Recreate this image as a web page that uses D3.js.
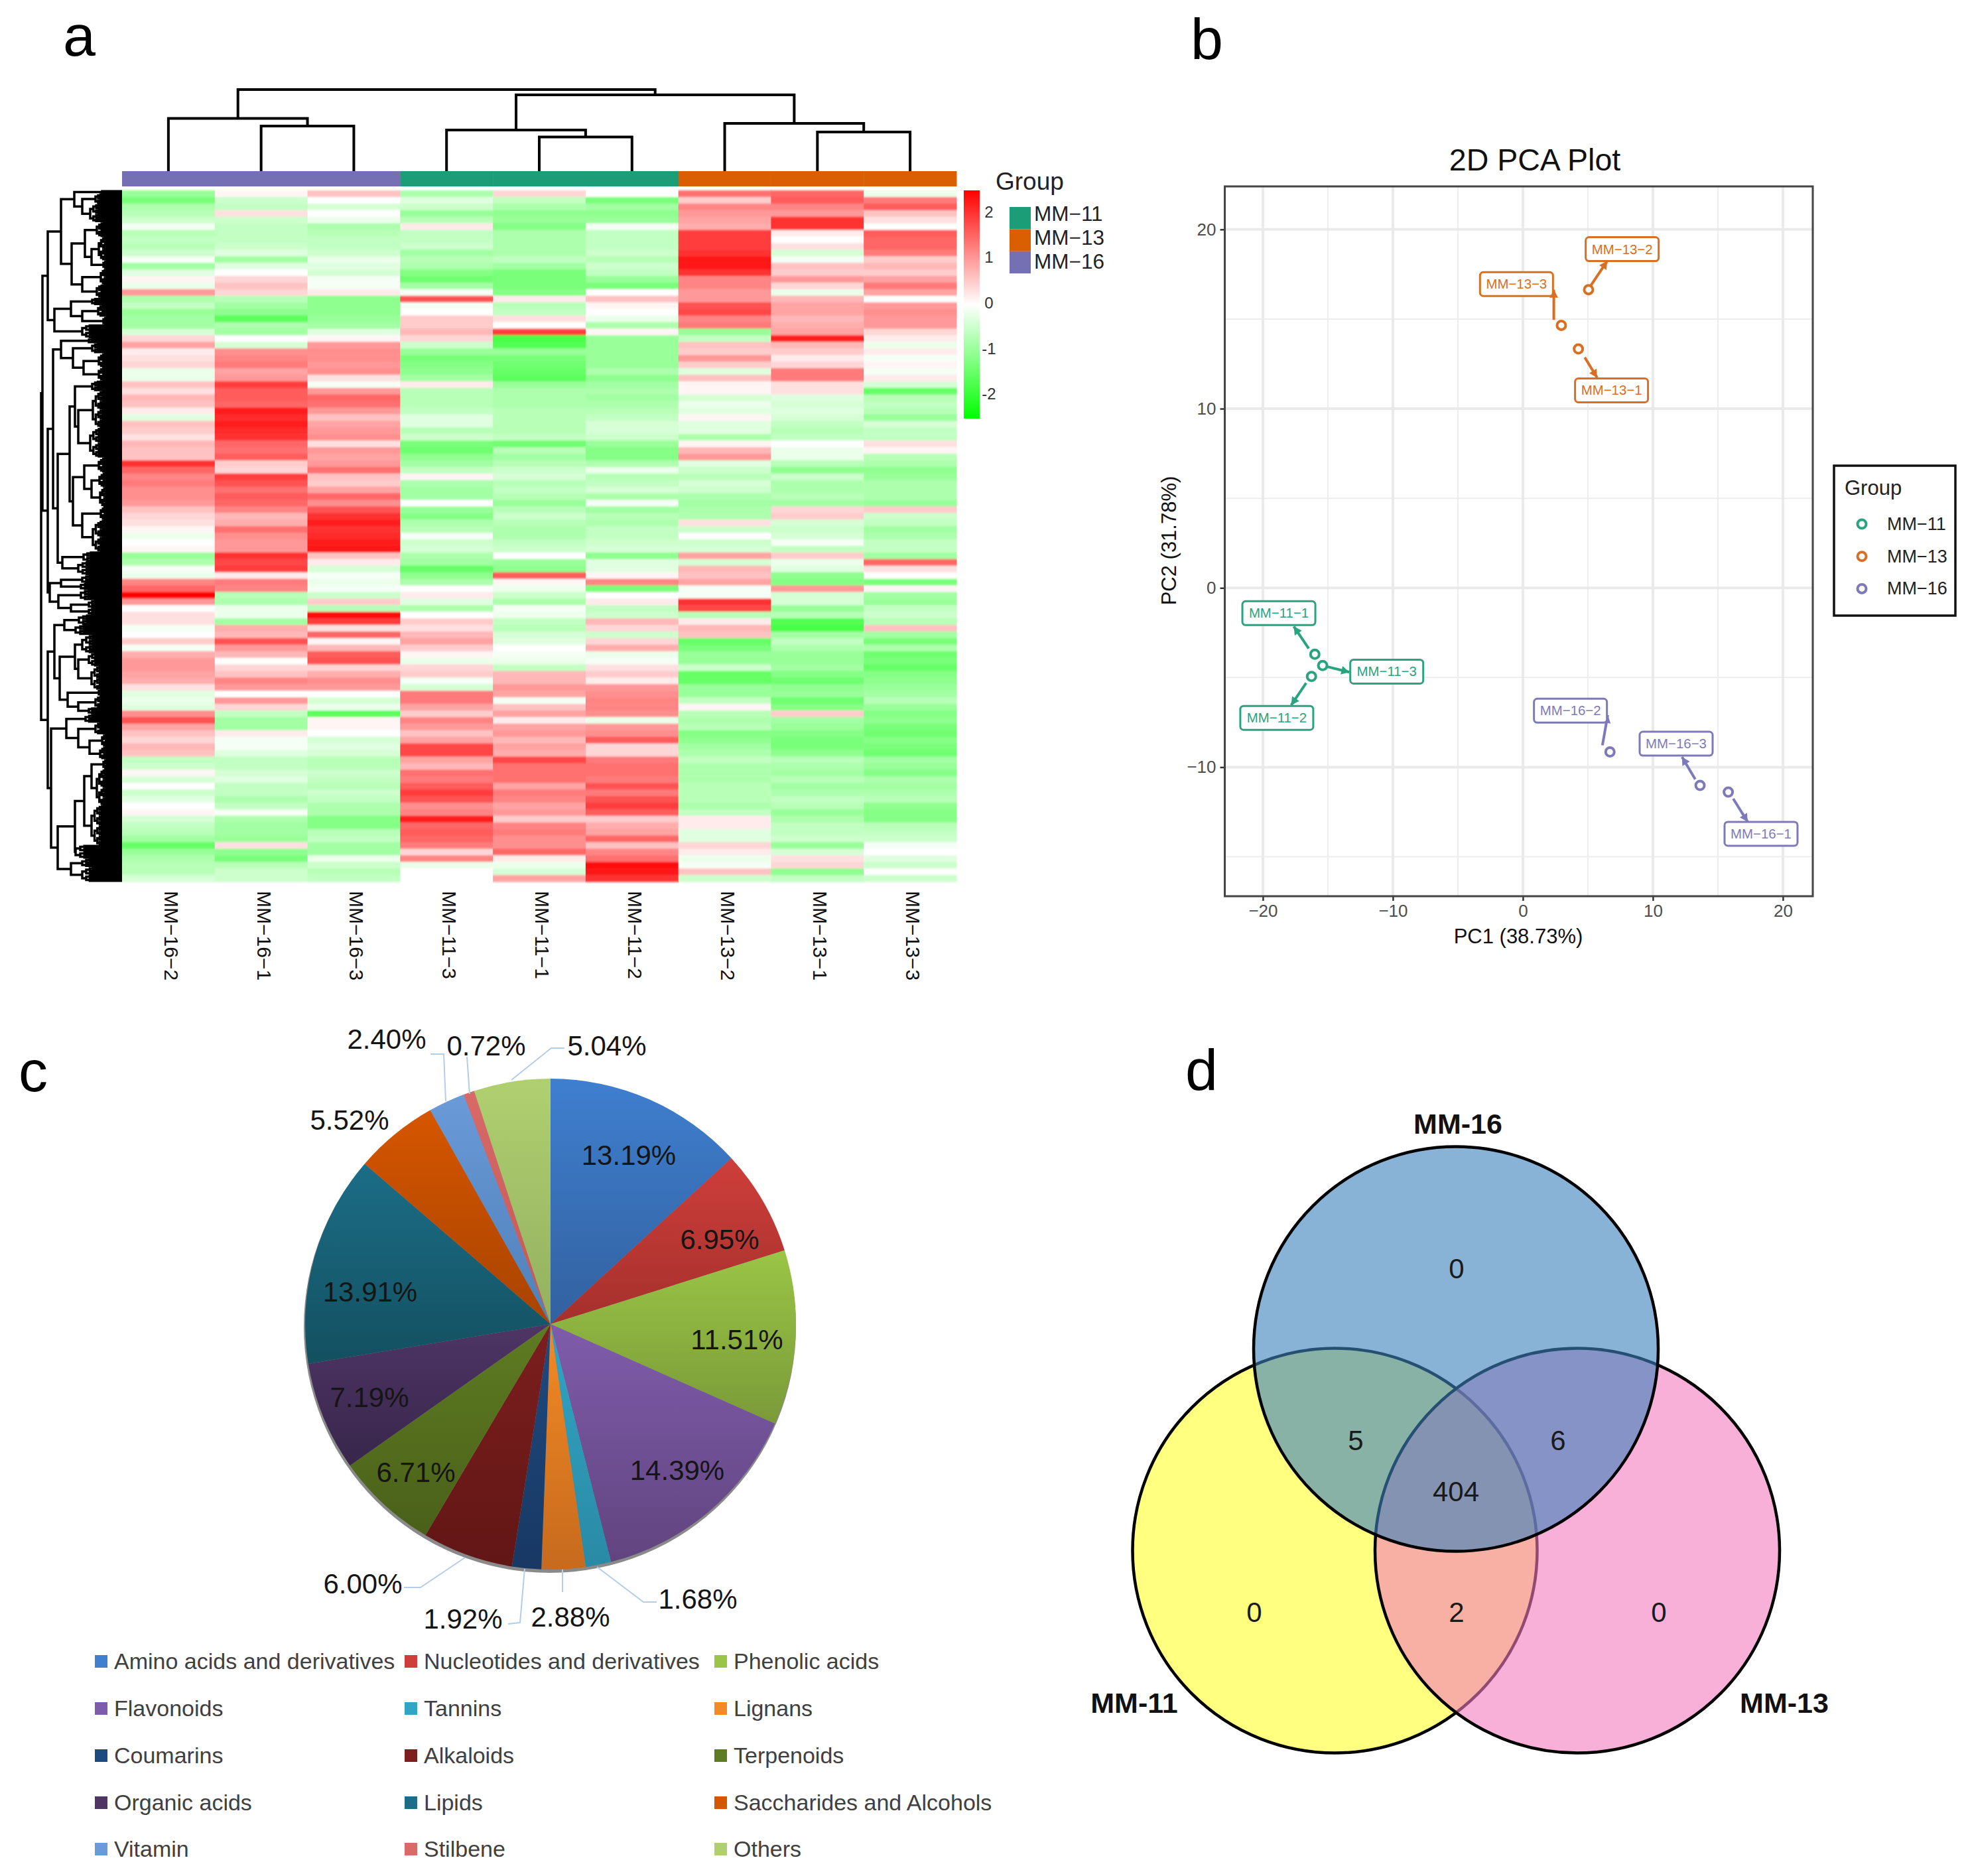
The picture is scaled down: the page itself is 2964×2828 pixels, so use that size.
<!DOCTYPE html>
<html><head><meta charset="utf-8">
<script src="https://cdn.jsdelivr.net/npm/d3@7/dist/d3.min.js"></script>
<style>html,body{margin:0;padding:0;background:#fff}svg{display:block}text{font-family:"Liberation Sans",Arial,sans-serif}</style>
</head><body><svg id="c" width="2964" height="2828" viewBox="0 0 2964 2828"></svg>
<script>
// ---------- Heatmap data (z-scores, one list per sample) ----------
const heatSamples = ["MM−16−2","MM−16−1","MM−16−3","MM−11−3","MM−11−1","MM−11−2","MM−13−2","MM−13−1","MM−13−3"];
const heatGroups = ["MM-16","MM-16","MM-16","MM-11","MM-11","MM-11","MM-13","MM-13","MM-13"];
const s16_2 = [-1.0,-1.3,-0.8,-0.7,-0.5,-0.1,-0.7,-0.6,-0.7,-0.5,-0.1,-0.9,-0.3,0.1,-0.2,1.0,-0.8,-0.6,-1.0,-0.9,-0.9,-0.4,0.4,0.9,0.2,0.3,0.4,-0.2,-0.2,0.6,0.3,0.7,0.6,0.2,-0.3,
 0.6,0.5,0.3,0.7,0.6,0.6,2.0,1.5,1.2,1.3,1.1,1.1,1.0,0.6,0.4,0.3,0.1,-0.2,0.0,0.1,-1.0,-0.8,-0.1,-0.2,1.2,1.5,2.5,1.0,0.0,0.3,0.3,-0.1,0.0,0.5,-0.1,
 0.8,1.0,1.0,0.9,0.8,0.3,-0.3,-0.2,-0.3,1.1,1.7,0.9,0.6,0.4,0.7,0.6,-0.6,-0.5,0.1,-0.4,0.0,-0.5,-0.3,0.0,0.1,-0.4,-0.6,-0.7,-0.9,-1.5,-1.0,-0.8,-0.7,-0.7,-0.4];
const s16_1 = [0.1,-0.5,-0.6,0.3,-0.5,-0.6,-0.6,-0.6,-0.5,-0.3,-0.9,-0.3,0.0,0.4,0.6,0.4,-0.7,-0.9,-1.1,-1.6,-0.8,-0.9,0.0,-0.4,1.1,1.2,1.3,0.9,1.0,1.9,1.6,1.6,1.5,2.2,2.1,
 2.2,2.1,2.0,1.5,1.4,1.6,0.5,0.4,1.9,1.7,1.4,1.6,1.5,1.2,0.7,0.8,1.4,1.1,1.0,1.0,2.0,1.8,1.9,0.2,1.3,1.2,-0.7,-0.8,-0.2,-0.2,-0.9,0.8,0.7,1.7,1.0,
 0.7,0.0,0.4,0.6,1.2,1.0,0.0,1.0,0.4,-0.6,-0.9,-0.9,0.2,-0.1,-0.1,-0.3,-0.6,-0.6,-0.4,-0.3,-0.6,-0.6,-0.8,-0.6,-0.1,-0.8,-0.9,-0.9,-1.0,0.3,-1.1,-1.3,-0.7,-0.5,-0.5];
const s16_3 = [0.6,0.0,-0.4,0.0,-0.2,-0.8,-0.7,-0.6,-0.6,-0.5,-0.2,-0.3,-0.4,-0.1,-0.1,0.2,-1.1,-1.1,-1.1,-1.0,-0.9,-0.3,0.1,1.0,1.1,1.1,1.0,1.1,0.3,-0.1,1.0,1.5,1.4,1.0,0.6,
 0.9,1.0,1.1,0.3,1.0,0.9,1.0,1.4,0.6,0.5,0.9,1.5,1.1,1.7,2.0,2.2,2.0,2.1,2.2,2.3,0.6,0.2,-0.4,-0.1,-0.2,-0.1,-0.5,0.5,-0.7,2.4,1.9,0.3,1.5,0.1,0.7,
 1.6,1.7,0.4,0.8,1.1,1.0,0.0,-0.4,-0.2,-1.6,0.1,0.1,0.0,-0.4,-0.3,-0.4,-0.7,-0.7,-0.5,-0.6,-0.7,-0.5,-0.6,-0.8,-0.8,-1.2,-1.2,-0.7,-0.6,-0.9,-0.9,-0.2,-0.5,-0.7,-0.6];
const s11_3 = [-0.8,-0.3,-0.5,-1.0,-0.7,0.2,-0.6,-0.6,-0.5,-0.9,-0.7,-0.8,-1.2,-1.4,-0.9,-0.1,1.7,-0.1,0.0,0.5,0.5,0.7,0.4,-0.5,-1.0,-1.3,-1.2,-1.1,-0.9,0.2,-0.7,-0.7,-0.7,-0.6,-0.3,
 -0.3,-0.7,-0.5,-1.3,-1.4,-1.1,-0.9,-0.6,0.1,-0.8,-0.9,-0.9,0.0,-1.0,-1.2,-0.8,-0.7,-0.1,-0.5,-0.4,-0.8,-0.9,-1.5,-1.1,-0.8,0.0,0.2,-0.3,-0.8,0.0,0.5,0.3,0.7,0.9,0.5,
 0.1,-0.2,0.4,0.5,-0.1,-0.4,1.3,1.3,0.9,0.5,1.2,1.0,0.6,0.9,1.8,1.8,0.9,0.7,1.4,1.3,1.6,1.9,1.7,1.1,1.2,2.2,1.5,1.6,1.5,1.3,0.4,1.2,-0.2,0.0,0.0];
const s11_1 = [0.4,-0.6,-0.8,-1.1,-1.0,-1.2,-0.8,-0.8,-0.8,-0.8,-0.6,-0.9,-1.3,-1.3,-1.3,-1.2,0.2,-0.7,-0.6,0.3,0.0,1.9,-1.8,-1.7,-1.0,-1.3,-1.4,-1.5,-1.6,-1.0,-0.8,-0.8,-0.8,-0.7,-0.7,
 -0.7,-0.7,-0.6,-1.4,-0.7,-0.9,-0.7,-0.5,-0.4,-0.7,-0.6,-0.7,-1.0,-0.7,-0.5,-0.7,-0.8,-0.8,-0.6,-0.5,0.0,-1.0,-1.1,1.6,0.1,-0.2,-0.5,-0.8,-0.1,-0.2,-0.6,-0.7,-0.4,-0.3,0.0,
 -0.1,-0.2,-0.6,0.7,0.7,1.0,0.9,-0.1,0.6,0.9,0.2,0.9,1.0,0.7,0.9,0.8,1.8,1.4,1.4,1.4,0.9,1.3,1.2,0.9,1.0,0.5,1.2,1.3,1.1,1.1,1.5,0.2,-0.2,-0.4,0.9];
const s11_2 = [0.0,-1.3,-0.9,-1.1,-1.0,-0.1,-0.6,-0.6,-0.6,-0.5,-0.7,-0.5,-0.6,-1.0,-1.3,0.0,0.6,0.1,0.0,-0.2,-0.8,0.1,-1.0,-1.0,-1.0,-1.0,-1.0,-0.8,-1.1,-0.9,-0.8,-0.9,-0.8,-0.7,-0.6,
 -0.4,-0.4,-0.5,-1.0,-1.2,-1.2,-0.8,-0.2,-0.7,-0.6,-0.4,-0.8,-0.1,-0.9,-0.7,-0.8,-0.6,-0.6,-0.5,-0.4,-1.1,-0.3,-0.3,0.1,1.2,-1.3,0.0,0.2,-0.6,-0.5,0.7,0.4,-0.5,0.4,0.8,
 -0.2,-0.1,0.3,0.5,0.2,1.0,1.1,1.2,1.2,1.1,-0.2,1.0,1.1,1.6,0.4,0.4,1.3,1.4,1.4,1.3,1.7,1.3,1.7,1.9,1.6,0.5,0.8,0.9,1.5,0.6,1.2,1.4,2.4,2.3,2.0];
const s13_2 = [1.4,0.5,1.2,1.0,0.9,0.8,1.9,1.9,1.9,2.0,2.3,2.3,2.0,1.2,1.2,1.0,1.0,1.7,1.8,1.2,1.3,-1.0,-0.6,0.6,0.5,1.0,0.5,-0.3,0.6,0.1,0.1,-0.4,-0.2,-0.3,0.1,
 -0.3,-0.3,-0.8,0.1,0.7,1.0,-0.3,-0.5,-0.7,-0.4,-0.5,-0.8,-0.9,-0.8,-0.8,0.3,-0.5,0.0,-0.5,-0.4,0.9,-0.4,0.7,0.6,0.9,-0.1,-0.1,2.0,1.8,-0.7,0.2,0.7,0.6,-1.5,-1.3,
 -1.0,-1.0,-0.5,-1.5,-1.5,-1.0,-1.0,-0.6,0.1,-0.7,-0.8,-0.7,-1.2,-1.1,-0.9,-0.8,-0.6,-0.8,-0.8,-0.8,-0.7,-0.7,-0.7,-0.8,-0.6,0.2,0.2,-0.3,-0.3,0.4,0.2,-0.2,-0.1,0.6,-0.5];
const s13_1 = [1.5,1.6,1.2,1.0,2.0,2.0,0.2,0.0,0.3,-0.4,-0.1,0.6,0.5,1.0,0.4,-0.2,0.7,0.9,0.9,0.7,0.8,0.9,2.2,0.7,0.5,0.2,0.4,1.3,1.3,0.3,0.3,-0.3,-0.4,-0.3,-0.4,
 -0.6,-0.7,-0.6,0.0,-0.2,-0.2,-0.7,-1.1,-0.5,-0.8,-0.8,-0.7,-0.9,0.4,0.5,-0.4,-0.5,-0.4,-0.1,-0.6,0.5,-0.2,-0.3,-1.1,-1.2,1.0,-0.4,-0.4,-1.0,-0.7,-1.7,-1.8,-0.9,-0.6,-0.8,
 -1.0,-1.0,-0.9,-1.2,-1.4,-1.1,-1.0,-1.4,-1.2,0.5,-0.9,-1.0,-1.2,-1.3,-1.3,-1.1,-0.7,-0.8,-0.9,-0.7,-0.9,-0.8,-0.6,-0.7,-1.0,-0.8,-0.6,-0.6,-0.5,-1.0,-0.4,0.3,0.4,-1.1,-0.6];
const s13_3 = [-0.2,1.3,1.6,0.6,0.3,0.0,1.6,1.5,1.5,1.3,0.5,0.7,0.5,0.9,1.3,0.9,0.0,1.0,1.1,1.0,1.0,0.4,0.2,-0.2,0.2,-0.1,0.1,-0.1,0.2,-0.4,-1.5,-0.7,-0.6,-0.7,-1.0,
 -0.4,-0.6,-0.6,0.3,0.1,-0.7,-0.8,-1.1,-1.0,-0.8,-0.8,-0.8,-1.0,0.5,-0.5,-0.6,-0.9,-0.8,-0.6,-0.6,-0.9,1.5,0.3,0.0,-1.3,0.1,-0.9,-1.0,-0.6,-0.5,-0.7,0.6,-0.9,-1.3,-0.8,
 -1.4,-1.3,-1.5,-1.2,-1.1,-1.0,-0.9,-0.7,-1.0,-1.2,-1.1,-1.3,-1.4,-1.2,-1.3,-1.4,-0.9,-1.0,-1.2,-0.8,-0.9,-0.8,-0.7,-1.1,-1.2,-1.2,-0.7,-0.6,-0.5,-0.1,0.0,-0.3,-0.5,0.0,-0.5];
const heatColumns = [s16_2,s16_1,s16_3,s11_3,s11_1,s11_2,s13_2,s13_1,s13_3];
const heatLegendTicks = [2,1,0,-1,-2];
const groupNames = ["MM−11","MM−13","MM−16"];
const groupColors = {"MM-11":"#1B9E77","MM-13":"#D95F02","MM-16":"#7570B3"};
const pcaColors = {"MM-11":"#2AA37F","MM-13":"#D96F22","MM-16":"#7E7ABA"};

// column dendrogram: [height, left, right]; numbers are column positions
const colTree = [123,[79.5,0,[68,1,2]],[115,[62,3,[51.5,4,5]],[72,6,[59,7,8]]]];
// row dendrogram: [height, a, b]; a leaf bundle is [firstRow, lastRow, height]
const rowTree = [122,
 [120,
  [112,
   [92,
    [72,[0,2,30],[60,[2,8,40],[8,19,48]]],
    [76,[56,[19,28,38],[46,[28,42,35],[42,47,28]]],[60,[47,57,32],[57,65,38]]]],
   [102,[77,[65,69,45],[60,[69,76,36],[76,81,28]]],[81,89,60]]],
  [112,
   [104,
    [92,[89,92,50],[74,[92,98,45],[58,[98,107,35],[107,115,35]]]],
    [97,
     [79,
      [71,[115,121,45],[66,[121,143,44],[143,161,48]]],
      [74,[57,[161,170,35],[46,[170,179,34],[179,191,33]]],[60,[191,199,32],[199,218,44]]]],
     [90,[218,224,58],[224,232,66]]]],
   [109,
    [92,[232,237,60],[237,241,62]],
    [96,[241,247,62],[77,[247,252,50],[252,256,50]]]]]],
 [112,
  [102,
   [87,[256,262,65],[262,268,70]],
   [94,
    [71,[268,279,60],[66,[279,287,50],[287,301,46]]],
    [82,[301,305,35],[66,[305,312,40],[312,316,50]]]]],
  [107,
   [84,[316,321,55],[66,[321,328,40],[49,[328,336,30],[336,343,33]]]],
   [97,
    [71,[57,[46,[343,349,28],[349,371,38]],[371,395,46]],[395,403,70]],
    [77,[403,408,60],[408,417,60]]]]]];

// ---------- PCA data ----------
const pcaSamples = ["MM−11−1","MM−11−2","MM−11−3","MM−13−1","MM−13−2","MM−13−3","MM−16−1","MM−16−2","MM−16−3"];
const pcaGroup = ["MM-11","MM-11","MM-11","MM-13","MM-13","MM-13","MM-16","MM-16","MM-16"];
const pc1 = [-16.0,-16.26,-15.4,4.27,5.05,2.96,15.8,6.7,13.63];
const pc2 = [-3.7,-4.94,-4.33,13.33,16.64,14.65,-11.39,-9.15,-11.02];
const labelPc1 = [-18.77,-18.93,-10.47,6.82,7.64,-0.49,18.32,3.66,11.79];
const labelPc2 = [-1.41,-7.25,-4.67,11.02,18.9,16.95,-13.72,-6.85,-8.69];
const arrowFrom1 = [-16.47,-16.67,-15.07,4.76,5.22,2.38,16.18,6.12,13.26];
const arrowFrom2 = [-3.38,-5.31,-4.39,12.86,16.86,14.95,-11.76,-8.78,-10.68];
const arrowTo1 = [-17.62,-17.82,-13.35,5.71,6.49,2.38,17.29,6.53,12.24];
const arrowTo2 = [-2.15,-6.54,-4.70,11.73,18.24,16.64,-13.05,-7.09,-9.43];
const pcaMajorX = [-20,-10,0,10,20], pcaMinorX = [-15,-5,5,15];
const pcaMajorY = [-10,0,10,20], pcaMinorY = [-15,-5,5,15];

// ---------- Pie data ----------
const pieNames = ["Amino acids and derivatives","Nucleotides and derivatives","Phenolic acids","Flavonoids","Tannins","Lignans","Coumarins","Alkaloids","Terpenoids","Organic acids","Lipids","Saccharides and Alcohols","Vitamin","Stilbene","Others"];
const pieValues = [13.19,6.95,11.51,14.39,1.68,2.88,1.92,6.00,6.71,7.19,13.91,5.52,2.40,0.72,5.04];
const pieTop = ["#3F7FD0","#CE3E3A","#9AC546","#7F5CAB","#30A5C4","#F28A25","#1F4A80","#7C1F1E","#5E7C22","#4E3565","#1C6D87","#D65600","#6A9AD8","#D86A68","#B0D070"];
const pieBottom = ["#32619F","#A5302C","#7A9A38","#61447F","#2A8AA5","#C76A1E","#183863","#611615","#4A6019","#38264B","#135060","#A84300","#5080B8","#C05856","#93B060"];
const pieLabelX = [948,1085,1111,1021,1052,860,698,547,627,557,558,527,583,733,915];
const pieLabelY = [1741,1868,2019,2216,2410,2437,2440,2387,2219,2106,1947,1688,1566,1576,1576];
const pieLeaders = [[[900,2362],[970,2415],[990,2415]],[[848,2366],[848,2400]],[[791,2365],[784,2446],[766,2448]],[[701,2348],[634,2393],[609,2393]],[[672,1660],[669,1589],[649,1589]],[[708,1649],[704,1593]],[[771,1628],[831,1580],[851,1580]]];

// ---------- Venn data ----------
const vennSets = ["MM-11","MM-13","MM-16"];
const vennCounts = ["0","5","6","404","0","2","0"];

// ================= drawing =================
const svg = d3.select("#c"), defs = svg.append("defs");
svg.append("rect").attr("width",2964).attr("height",2828).attr("fill","#fff");
const letters = [["a",95,84],["b",1795,89],["c",28,1645],["d",1787,1643]];
svg.selectAll("text.pl").data(letters).join("text").attr("class","pl").attr("x",d=>d[1]).attr("y",d=>d[2]).attr("font-size",88).attr("fill","#000").text(d=>d[0]);

// ---- a: heatmap
const hmX = d3.scaleBand().domain(d3.range(9)).range([184,1442]);
const nRows = s16_2.length;
const hmY = d3.scaleBand().domain(d3.range(nRows)).range([287,1329]);
const heatColor = d3.scaleLinear().domain([-2.5,0,2.5]).range(["#00FF00","#FFFFFF","#FF0000"]);
defs.append("filter").attr("id","soft").attr("x","0").attr("y","-1%").attr("width","100%").attr("height","102%")
  .append("feGaussianBlur").attr("stdDeviation","0 1.6");
const hm = svg.append("g");
heatColumns.forEach((col,i)=>{
  const g = hm.append("g").attr("filter","url(#soft)");
  g.selectAll("rect").data(col).join("rect")
   .attr("x",hmX(i)).attr("width",hmX.bandwidth()+0.5)
   .attr("y",(d,r)=>hmY(r)).attr("height",hmY.bandwidth()+0.6)
   .attr("fill",d=>heatColor(d));
});
svg.selectAll("rect.ann").data(heatGroups).join("rect").attr("class","ann")
  .attr("x",(d,i)=>hmX(i)).attr("width",hmX.bandwidth()+0.5).attr("y",258).attr("height",23).attr("fill",d=>groupColors[d]);
svg.selectAll("text.cl").data(heatSamples).join("text").attr("class","cl")
  .attr("transform",(d,i)=>`translate(${hmX(i)+hmX.bandwidth()/2-6},1343) rotate(90)`)
  .attr("font-size",30).attr("fill","#111").text(d=>d);

// column dendrogram
const colH = d3.scaleLinear().domain([0,123]).range([258,135]);
let pathTop = "";
function walkCol(n){
  if(typeof n==="number") return {x:hmX(n)+hmX.bandwidth()/2,h:0};
  const a=walkCol(n[1]), b=walkCol(n[2]);
  pathTop += `M${a.x},${colH(a.h)}V${colH(n[0])}H${b.x}V${colH(b.h)}`;
  return {x:(a.x+b.x)/2,h:n[0]};
}
walkCol(colTree);
svg.append("path").attr("d",pathTop).attr("fill","none").attr("stroke","#000").attr("stroke-width",4);

// row dendrogram
const rowH = d3.scaleLinear().domain([0,122]).range([184,62]);
const rowPos = d3.scaleLinear().domain([0,417]).range([287,1329]);
let pathLeft = "";
function bundle(r0,r1,h){
  if(r1-r0<=1) return {y:rowPos((r0+r1)/2),h:0};
  const m=Math.round((r0+r1)/2);
  const a=bundle(r0,m,h*0.9), b=bundle(m,r1,h*0.9);
  pathLeft += `M${rowH(a.h)},${a.y}H${rowH(h)}V${b.y}H${rowH(b.h)}`;
  return {y:(a.y+b.y)/2,h};
}
function walkRow(n){
  if(n.length===3 && typeof n[1]==="number") return bundle(n[0],n[1],n[2]);
  const a=walkRow(n[1]), b=walkRow(n[2]);
  pathLeft += `M${rowH(a.h)},${a.y}H${rowH(n[0])}V${b.y}H${rowH(b.h)}`;
  return {y:(a.y+b.y)/2,h:n[0]};
}
walkRow(rowTree);
svg.append("path").attr("d",pathLeft).attr("fill","none").attr("stroke","#000").attr("stroke-width",3.5);

// colour bar + legend
const cbY = d3.scaleLinear().domain([2.51,-2.51]).range([287,631]);
const cbGrad = defs.append("linearGradient").attr("id","cb").attr("x1",0).attr("x2",0).attr("y1",0).attr("y2",1);
[2.5,0,-2.5].forEach((v,i)=>cbGrad.append("stop").attr("offset",i/2).attr("stop-color",heatColor(v)));
svg.append("rect").attr("x",1453).attr("y",287).attr("width",24).attr("height",344).attr("fill","url(#cb)");
svg.selectAll("text.cbt").data(heatLegendTicks).join("text").attr("class","cbt")
  .attr("x",1491).attr("y",d=>cbY(d)+6).attr("text-anchor","middle").attr("font-size",24).attr("fill","#333").text(d=>d);
svg.append("text").attr("x",1501).attr("y",286).attr("font-size",37).attr("fill","#222").text("Group");
const gkeys = ["MM-11","MM-13","MM-16"];
svg.selectAll("rect.gk").data(gkeys).join("rect").attr("class","gk").attr("x",1522).attr("width",32)
  .attr("y",(d,i)=>312+i*33.4).attr("height",33.4).attr("fill",d=>groupColors[d]);
svg.selectAll("text.gk").data(groupNames).join("text").attr("class","gk").attr("x",1559)
  .attr("y",(d,i)=>333+i*36).attr("font-size",31.5).attr("fill","#222").text(d=>d);

// ---- b: PCA
const px = d3.scaleLinear().domain([-22.93,22.3]).range([1846.5,2733]);
const py = d3.scaleLinear().domain([-17.2,22.4]).range([1351,281]);
const pg = svg.append("g");
pg.selectAll("line.mnx").data(pcaMinorX).join("line").attr("class","mnx").attr("x1",d=>px(d)).attr("x2",d=>px(d)).attr("y1",281).attr("y2",1351).attr("stroke","#EDEDED").attr("stroke-width",2);
pg.selectAll("line.mny").data(pcaMinorY).join("line").attr("class","mny").attr("y1",d=>py(d)).attr("y2",d=>py(d)).attr("x1",1846.5).attr("x2",2733).attr("stroke","#EDEDED").attr("stroke-width",2);
pg.selectAll("line.mjx").data(pcaMajorX).join("line").attr("class","mjx").attr("x1",d=>px(d)).attr("x2",d=>px(d)).attr("y1",281).attr("y2",1351).attr("stroke","#EAEAEA").attr("stroke-width",4);
pg.selectAll("line.mjy").data(pcaMajorY).join("line").attr("class","mjy").attr("y1",d=>py(d)).attr("y2",d=>py(d)).attr("x1",1846.5).attr("x2",2733).attr("stroke","#EAEAEA").attr("stroke-width",4);
const fmtMinus = d => String(d).replace("-","−");
const axB = pg.append("g").attr("transform","translate(0,1351)").call(d3.axisBottom(px).tickValues(pcaMajorX).tickSize(7).tickPadding(6).tickFormat(fmtMinus));
const axL = pg.append("g").attr("transform","translate(1846.5,0)").call(d3.axisLeft(py).tickValues(pcaMajorY).tickSize(7).tickPadding(6).tickFormat(fmtMinus));
[axB,axL].forEach(a=>{a.select(".domain").remove();a.selectAll("line").attr("stroke","#333").attr("stroke-width",2.5);
  a.selectAll("text").attr("font-size",26).attr("fill","#4D4D4D").attr("font-family","Liberation Sans");});
pg.append("rect").attr("x",1846.5).attr("y",281).attr("width",886.5).attr("height",1070).attr("fill","none").attr("stroke","#444").attr("stroke-width",3);
pg.append("text").attr("x",2314).attr("y",257).attr("text-anchor","middle").attr("font-size",46.5).attr("fill","#111").text("2D PCA Plot");
pg.append("text").attr("x",2289).attr("y",1422).attr("text-anchor","middle").attr("font-size",31).attr("fill","#111").text("PC1 (38.73%)");
pg.append("text").attr("transform","translate(1773,815) rotate(-90)").attr("text-anchor","middle").attr("font-size",31).attr("fill","#111").text("PC2 (31.78%)");
pcaSamples.forEach((name,i)=>{
  const c = pcaColors[pcaGroup[i]];
  const x0=px(arrowFrom1[i]),y0=py(arrowFrom2[i]),x1=px(arrowTo1[i]),y1=py(arrowTo2[i]);
  pg.append("line").attr("x1",x0).attr("y1",y0).attr("x2",x1).attr("y2",y1).attr("stroke",c).attr("stroke-width",4);
  const a=Math.atan2(y1-y0,x1-x0), s=12, w=6.5;
  pg.append("path").attr("fill",c).attr("d",`M${x1},${y1}L${x1-s*Math.cos(a)-w*Math.sin(a)},${y1-s*Math.sin(a)+w*Math.cos(a)}L${x1-s*Math.cos(a)+w*Math.sin(a)},${y1-s*Math.sin(a)-w*Math.cos(a)}Z`);
  pg.append("circle").attr("cx",px(pc1[i])).attr("cy",py(pc2[i])).attr("r",6.5).attr("fill","#fff").attr("stroke",c).attr("stroke-width",4);
  const lx=px(labelPc1[i]), ly=py(labelPc2[i]);
  pg.append("rect").attr("x",lx-55).attr("y",ly-18).attr("width",110).attr("height",36).attr("rx",5).attr("fill","#fff").attr("stroke",c).attr("stroke-width",3);
  pg.append("text").attr("x",lx).attr("y",ly+7).attr("text-anchor","middle").attr("font-size",20.4).attr("fill",c).text(name);
});
pg.append("rect").attr("x",2765).attr("y",702).attr("width",183).attr("height",226).attr("fill","#fff").attr("stroke","#111").attr("stroke-width",3.5);
pg.append("text").attr("x",2781).attr("y",746).attr("font-size",31).attr("fill","#222").text("Group");
gkeys.forEach((k,i)=>{
  pg.append("circle").attr("cx",2807).attr("cy",790+i*48.7).attr("r",6.5).attr("fill","#fff").attr("stroke",pcaColors[k]).attr("stroke-width",4);
  pg.append("text").attr("x",2845).attr("y",799+i*48.7).attr("font-size",27).attr("fill","#222").text(groupNames[i]);
});

// ---- c: pie
const pieC = svg.append("g").attr("transform","translate(830,1996)");
const arcs = d3.pie().sort(null)(pieValues);
const arcGen = d3.arc().innerRadius(0).outerRadius(370);
pieC.append("circle").attr("cx",-1).attr("cy",4).attr("r",371).attr("fill","#8a8a8a");
pieNames.forEach((n,i)=>{
  const g=defs.append("linearGradient").attr("id","ps"+i).attr("x1",0).attr("x2",0).attr("y1",0).attr("y2",1);
  g.append("stop").attr("offset",0).attr("stop-color",pieTop[i]);
  g.append("stop").attr("offset",1).attr("stop-color",pieBottom[i]);
});
pieC.selectAll("path").data(arcs).join("path").attr("d",arcGen).attr("fill",(d,i)=>`url(#ps${i})`);
const leaderLine = d3.line();
svg.selectAll("path.ld").data(pieLeaders).join("path").attr("class","ld").attr("d",leaderLine).attr("fill","none").attr("stroke","#B4CDE8").attr("stroke-width",2);
svg.selectAll("text.pv").data(pieValues).join("text").attr("class","pv")
  .attr("x",(d,i)=>pieLabelX[i]).attr("y",(d,i)=>pieLabelY[i]+15).attr("text-anchor","middle").attr("font-size",42).attr("fill","#151515")
  .text(d=>d.toFixed(2)+"%");
const legCols=[143,610,1077], legRows=[2504,2575,2646,2717,2787];
pieNames.forEach((n,i)=>{
  const cx=legCols[i%3], cy=legRows[Math.floor(i/3)];
  svg.append("rect").attr("x",cx).attr("y",cy-9).attr("width",19).attr("height",19).attr("fill",pieTop[i]);
  svg.append("text").attr("x",cx+29).attr("y",cy+12).attr("font-size",34).attr("fill","#404040").text(n);
});

// ---- d: venn (later discs tint the outlines of the earlier ones)
const vennPos = {"MM-11":[2012.5,2337.5],"MM-13":[2378,2337.5],"MM-16":[2195,2033.5]};
const vennFill = {"MM-11":["#FFFF80",1],"MM-13":["#F37BBE",0.6],"MM-16":["#3D81BC",0.61]};
vennSets.forEach(k=>{
  svg.append("circle").attr("cx",vennPos[k][0]).attr("cy",vennPos[k][1]).attr("r",305)
    .attr("fill",vennFill[k][0]).attr("fill-opacity",vennFill[k][1]);
  svg.append("circle").attr("cx",vennPos[k][0]).attr("cy",vennPos[k][1]).attr("r",305)
    .attr("fill","none").attr("stroke","#000").attr("stroke-width",4.5);
});
const vennTX=[2196,2044,2349,2195,1891,2196,2501], vennTY=[1912,2171,2171,2248,2430,2430,2430];
svg.selectAll("text.vc").data(vennCounts).join("text").attr("class","vc")
  .attr("x",(d,i)=>vennTX[i]).attr("y",(d,i)=>vennTY[i]+15).attr("text-anchor","middle").attr("font-size",42).attr("fill","#1a1a1a").text(d=>d);
const vennLabelPos=[[1710,2582],[2690,2582],[2198,1709]];
svg.selectAll("text.vl").data(vennSets).join("text").attr("class","vl")
  .attr("x",(d,i)=>vennLabelPos[i][0]).attr("y",(d,i)=>vennLabelPos[i][1]).attr("text-anchor","middle")
  .attr("font-size",43).attr("font-weight","bold").attr("fill","#111").text(d=>d);
</script></body></html>
